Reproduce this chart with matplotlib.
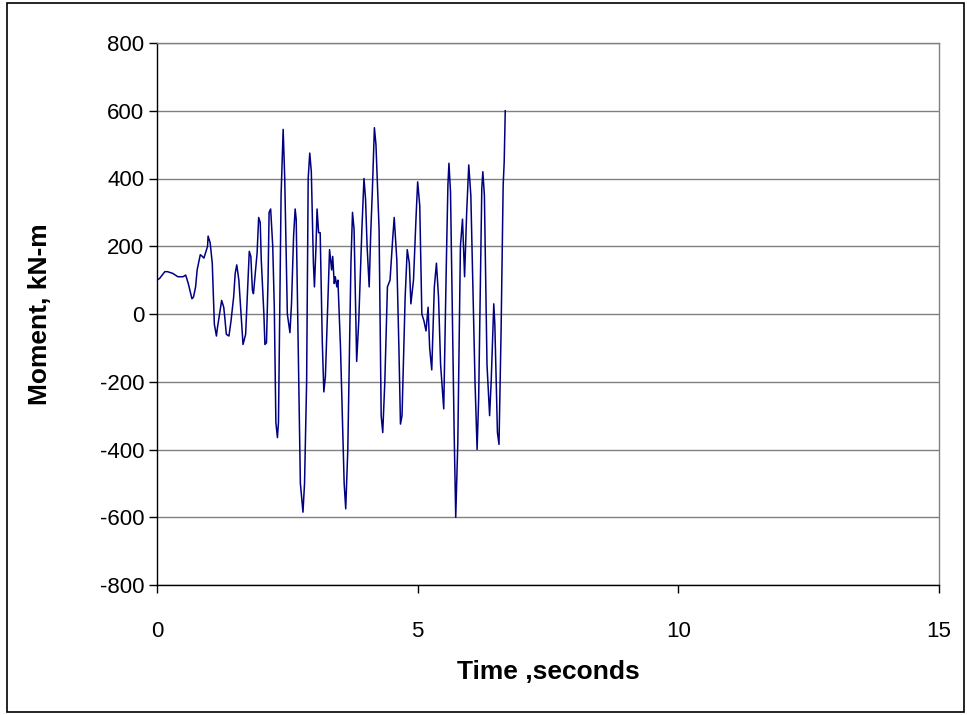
import matplotlib
matplotlib.use("Agg")
import matplotlib.pyplot as plt
from matplotlib.patches import Rectangle

time_s = [0.00, 0.05, 0.10, 0.15, 0.20, 0.30, 0.40, 0.50, 0.55, 0.60, 0.67, 0.70, 0.74, 0.77, 0.83, 0.87, 0.90,
          0.93, 0.97, 0.98, 1.02, 1.06, 1.08, 1.10, 1.14, 1.16, 1.20, 1.24, 1.28, 1.30, 1.33, 1.38,
          1.42, 1.47, 1.50, 1.53, 1.57, 1.60, 1.65, 1.70, 1.74, 1.77, 1.80, 1.83, 1.85, 1.92, 1.95,
          1.98, 2.00, 2.05, 2.07, 2.10, 2.13, 2.15, 2.18, 2.22, 2.25, 2.28, 2.31, 2.33, 2.38, 2.42,
          2.45, 2.50, 2.55, 2.58, 2.62, 2.65, 2.67, 2.72, 2.75, 2.80, 2.83, 2.87, 2.90, 2.93, 2.96,
          3.00, 3.02, 3.05, 3.07, 3.10, 3.13, 3.17, 3.20, 3.23, 3.28, 3.31, 3.35, 3.37, 3.40, 3.42,
          3.45, 3.47, 3.52, 3.56, 3.59, 3.62, 3.66, 3.72, 3.75, 3.78, 3.83, 3.87, 3.93, 3.97, 4.00,
          4.03, 4.07, 4.10, 4.13, 4.17, 4.20, 4.26, 4.30, 4.33, 4.37, 4.42, 4.47, 4.52, 4.55, 4.60,
          4.64, 4.67, 4.70, 4.76, 4.80, 4.84, 4.87, 4.92, 4.97, 5.00, 5.04, 5.08, 5.12, 5.16, 5.20,
          5.23, 5.27, 5.32, 5.36, 5.40, 5.44, 5.50, 5.55, 5.58, 5.60, 5.63, 5.70, 5.73, 5.77, 5.82,
          5.86, 5.90, 5.94, 5.98, 6.02, 6.10, 6.14, 6.17, 6.23, 6.25, 6.28, 6.33, 6.38, 6.41, 6.44,
          6.46, 6.48, 6.53, 6.56, 6.60, 6.64, 6.66, 6.68]
moment_kNm = [100, 105, 115, 125, 125, 120, 110, 110, 115, 90, 45, 50, 80, 130, 175, 170, 165,
              180, 200, 230, 210, 150, 60, -30, -65, -40, 0, 40, 20, -10, -60, -65,
              -20, 50, 120, 145, 100, 30, -90, -60, 80, 185, 170, 70, 60, 180, 285,
              270, 160, 0, -90, -85, 100, 300, 310, 200, 20, -320, -365, -320, 350, 545,
              400, 0, -55, 30, 230, 310, 280, -220, -500, -585, -500, -200, 400, 475, 420,
              150, 80, 200, 310, 240, 240, -80, -230, -185, 50, 190, 130, 170, 90, 110,
              80, 100, -100, -330, -500, -575, -400, 150, 300, 250, -140, -20, 250, 400, 340,
              200, 80, 240, 360, 550, 500, 250, -300, -350, -200, 80, 100, 220, 285, 160,
              -100, -325, -300, 50, 190, 150, 30, 100, 290, 390, 320, 0, -20, -50, 20,
              -100, -165, 80, 150, 50, -150, -280, 150, 380, 445, 360, -350, -600, -380, 200,
              280, 110, 300, 440, 350, -200, -400, -250, 370, 420, 350, -150, -300, -200, -60,
              30, -30, -350, -385, -50, 380, 450, 600]

x_ticks = [0, 5, 10, 15]
y_ticks = [-800, -600, -400, -200, 0, 200, 400, 600, 800]

plt.rcParams['font.family'] = ['Liberation Sans', 'DejaVu Sans']
plt.rcParams['axes.unicode_minus'] = False

fig = plt.figure(figsize=(9.67, 7.15), dpi=100)
ax = fig.add_axes([157/967, 1 - 585/715, (939 - 157)/967, (585 - 43)/715])

ax.plot(time_s, moment_kNm, color='#000080', linewidth=1.1)

ax.set_xlim(0, 15)
ax.set_ylim(-800, 800)
ax.set_xticks(x_ticks)
ax.set_yticks(y_ticks)
ax.tick_params(axis='both', direction='out', length=6, width=1, labelsize=16, color='black')
ax.tick_params(axis='x', pad=20)
ax.tick_params(axis='y', pad=3)
ax.yaxis.grid(True, color='#808080', linewidth=1)
ax.set_axisbelow(True)

for side in ['top', 'right']:
    ax.spines[side].set_color('#808080')
    ax.spines[side].set_linewidth(1)
for side in ['left', 'bottom']:
    ax.spines[side].set_color('black')
    ax.spines[side].set_linewidth(1)

ax.set_xlabel('Time ,seconds', fontsize=19, fontweight='bold')
ax.set_ylabel('Moment, kN-m', fontsize=19, fontweight='bold')
ax.xaxis.set_label_coords((548 - 157) / (939 - 157), -(672 - 585) / (585 - 43))
ax.yaxis.set_label_coords(-(157 - 40) / (939 - 157), (585 - 314) / (585 - 43))
ax.xaxis.label.set_va('center')
ax.yaxis.label.set_va('center')

fig.patches.append(Rectangle((7/967, 3/715), 957/967, 709/715, transform=fig.transFigure,
                             fill=False, edgecolor='black', linewidth=1.2))

fig.savefig('out.png', dpi=100)
